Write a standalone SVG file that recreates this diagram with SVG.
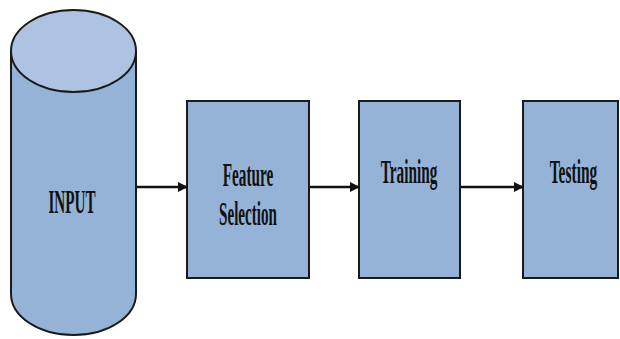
<svg xmlns="http://www.w3.org/2000/svg" width="620" height="339" viewBox="0 0 620 339">
<style>
.box{fill:#95b3d7;stroke:#1a1a1a;stroke-width:2}
.lbl{font-family:"Liberation Serif","Times New Roman",serif;font-size:34px;font-weight:bold;fill:#111;text-anchor:middle}
.conn{stroke:#111;stroke-width:2.5;fill:none}
</style>
<defs>
<marker id="ah" markerWidth="10" markerHeight="10" refX="9" refY="5" orient="auto" markerUnits="userSpaceOnUse">
<path d="M0,0 L10,5 L0,10 Z" fill="#111"/>
</marker>
</defs>
<rect width="620" height="339" fill="#fff"/>
<g id="input">
<path class="box" d="M11,51 L11,294 A62.5,41 0 0 0 136,294 L136,51"/>
<ellipse cx="73.5" cy="51" rx="62.5" ry="41" fill="#adc3e1" stroke="#1a1a1a" stroke-width="2"/>
<text class="lbl" transform="translate(72,213) scale(0.445,1)">INPUT</text>
</g>
<g id="feature">
<rect class="box" x="187" y="101" width="122" height="177"/>
<text class="lbl" transform="translate(248,186) scale(0.45,1)">Feature</text>
<text class="lbl" transform="translate(248,225) scale(0.445,1)">Selection</text>
</g>
<g id="training">
<rect class="box" x="359" y="101" width="101" height="177"/>
<text class="lbl" transform="translate(409,183) scale(0.45,1)">Training</text>
</g>
<g id="testing">
<rect class="box" x="523" y="101" width="95" height="177"/>
<text class="lbl" transform="translate(573.5,183) scale(0.455,1)">Testing</text>
</g>
<g id="connectors">
<line class="conn" x1="137" y1="187" x2="187" y2="187" marker-end="url(#ah)"/>
<line class="conn" x1="310" y1="187" x2="359" y2="187" marker-end="url(#ah)"/>
<line class="conn" x1="461" y1="187" x2="523" y2="187" marker-end="url(#ah)"/>
</g>
</svg>
